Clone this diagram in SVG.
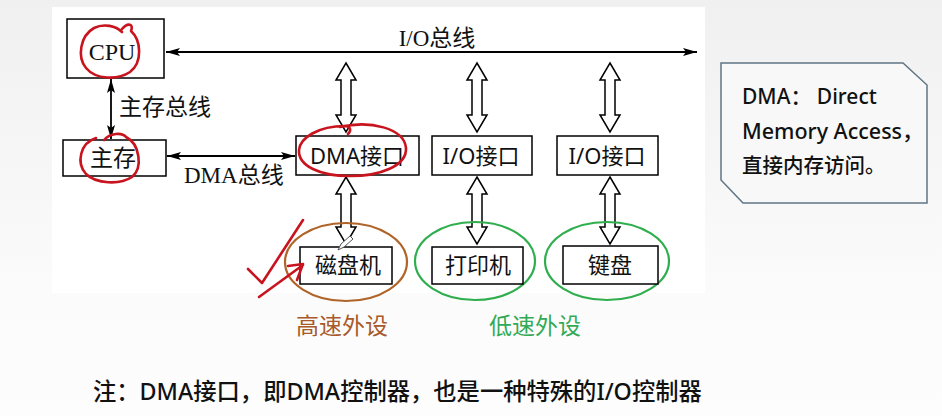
<svg xmlns="http://www.w3.org/2000/svg" width="942" height="416" viewBox="0 0 942 416">
<defs>
<linearGradient id="bg" x1="0" y1="0" x2="0" y2="1">
<stop offset="0" stop-color="#f0f0f0"/>
<stop offset="0.7" stop-color="#fbfbfb"/>
<stop offset="1" stop-color="#fdfdfd"/>
</linearGradient>
<marker id="ah" viewBox="0 0 14 8" refX="14" refY="4" markerWidth="14" markerHeight="8" markerUnits="userSpaceOnUse" orient="auto-start-reverse">
<path d="M0,0 L14,4 L0,8 L3,4 Z" fill="#000"/>
</marker>
</defs>
<style>
.box{fill:#fff;stroke:#000;stroke-width:1.5}
.line{stroke:#000;stroke-width:1.8;fill:none}
.harrow{fill:#fff;stroke:#000;stroke-width:1.5;stroke-linejoin:miter}
.serif{font-family:"Liberation Serif","Noto Sans CJK SC",serif;font-size:23px;fill:#111}
.sans{font-family:"Noto Sans","Noto Sans CJK SC",sans-serif;font-size:22px;fill:#111}
.cjk{font-family:"Noto Sans CJK SC",sans-serif;font-size:22px;fill:#111}
.note{font-family:"Noto Sans","Noto Sans CJK SC",sans-serif;font-size:20px;font-weight:500;fill:#111}
.red{fill:none;stroke:#c8141e;stroke-width:2.6;stroke-linecap:round;stroke-linejoin:round}
</style>
<rect x="0" y="0" width="942" height="416" fill="url(#bg)"/>
<rect x="52" y="7" width="653" height="286" fill="#fff"/>

<g id="connectors">
<line class="line" x1="166" y1="52" x2="697" y2="52" marker-start="url(#ah)" marker-end="url(#ah)"/>
<line class="line" x1="111" y1="79" x2="111" y2="139" marker-start="url(#ah)" marker-end="url(#ah)"/>
<line class="line" x1="167" y1="156" x2="295" y2="156" marker-start="url(#ah)" marker-end="url(#ah)"/>
<path class="harrow" d="M346,63 L356,80 L351,80 L351,115 L356,115 L346,132 L336,115 L341,115 L341,80 L336,80 Z"/>
<path class="harrow" d="M477,63 L487,80 L482,80 L482,115 L487,115 L477,132 L467,115 L472,115 L472,80 L467,80 Z"/>
<path class="harrow" d="M610,63 L620,80 L615,80 L615,115 L620,115 L610,132 L600,115 L605,115 L605,80 L600,80 Z"/>
<path class="harrow" d="M346,177 L356,194 L351,194 L351,227 L356,227 L346,244 L336,227 L341,227 L341,194 L336,194 Z"/>
<path class="harrow" d="M477,177 L487,194 L482,194 L482,227 L487,227 L477,244 L467,227 L472,227 L472,194 L467,194 Z"/>
<path class="harrow" d="M610,177 L620,194 L615,194 L615,227 L620,227 L610,244 L600,227 L605,227 L605,194 L600,194 Z"/>
<text class="serif" x="437" y="46" text-anchor="middle">I/O总线</text>
<text class="serif" x="119" y="115">主存总线</text>
<text class="serif" x="184" y="183">DMA总线</text>
</g>

<g id="cpu">
<rect class="box" x="67" y="19" width="97" height="59"/>
<text class="serif" x="112" y="60" text-anchor="middle" style="font-size:24px">CPU</text>
</g>
<g id="mem">
<rect class="box" x="63" y="140" width="103" height="36"/>
<text class="serif" x="113" y="166" text-anchor="middle">主存</text>
</g>
<g id="dma-if">
<rect class="box" x="296" y="136" width="123" height="39"/>
<text class="sans" x="357" y="164" text-anchor="middle">DMA接口</text>
</g>
<g id="io-if1">
<rect class="box" x="432" y="136" width="100" height="39"/>
<text class="sans" x="481" y="164" text-anchor="middle">I/O接口</text>
</g>
<g id="io-if2">
<rect class="box" x="557" y="136" width="101" height="39"/>
<text class="sans" x="607" y="164" text-anchor="middle">I/O接口</text>
</g>
<g id="disk">
<ellipse cx="346" cy="262" rx="61" ry="39" fill="none" stroke="#b06428" stroke-width="2.2"/>
<rect class="box" x="300" y="247" width="92" height="37"/>
<text class="cjk" x="348" y="273" text-anchor="middle">磁盘机</text>
</g>
<g id="printer">
<ellipse cx="475" cy="261" rx="60" ry="39" fill="none" stroke="#2fae4e" stroke-width="2.2"/>
<rect class="box" x="432" y="247" width="91" height="37"/>
<text class="cjk" x="478" y="273" text-anchor="middle">打印机</text>
</g>
<g id="keyboard">
<ellipse cx="607" cy="261" rx="62" ry="39" fill="none" stroke="#2fae4e" stroke-width="2.2"/>
<rect class="box" x="563" y="246" width="95" height="38"/>
<text class="cjk" x="610" y="273" text-anchor="middle">键盘</text>
</g>
<text class="cjk" x="342" y="334" text-anchor="middle" style="fill:#a85a2a;font-size:23px">高速外设</text>
<text class="cjk" x="535" y="334" text-anchor="middle" style="fill:#33aa55;font-size:23px">低速外设</text>

<g id="note-box">
<path d="M721,63 L903,63 L927,85 L927,203 L743,203 L721,180 Z" fill="#f8f8f8" stroke="#5f7585" stroke-width="1.5"/>
<text class="note" x="742" y="104" style="font-size:21px">DMA：  Direct</text>
<text class="note" x="742" y="139" style="font-size:21.5px">Memory Access，</text>
<text class="note" x="742" y="173" style="font-size:20.5px">直接内存访问。</text>
</g>

<text class="note" x="93" y="400" style="font-size:23.3px">注：DMA接口，即DMA控制器，也是一种特殊的I/O控制器</text>

<g id="annotations">
<path class="red" d="M122,29 C128,22 134,24 131,31 C141,40 143,62 130,72 C118,80 96,80 86,68 C77,57 80,36 94,28 C104,23 116,26 122,32"/>
<path class="red" d="M104,140 C110,133 122,132 126,137 C140,144 143,168 132,177 C120,185 96,184 86,174 C76,163 80,143 96,138"/>
<path class="red" d="M340,127 C370,120 404,128 406,148 C407,166 380,176 350,176 C320,176 298,166 299,150 C300,138 318,126 345,126 C350,126 352,130 348,134"/>
<path class="red" d="M248,269 L262,283 L303,220"/>
<path class="red" d="M259,297 L303,265 M288,266 L303,264 L297,280"/>
<path d="M338,250 L341,244 L350,236 L353,239 L344,247 Z" fill="#fff" stroke="#555" stroke-width="1"/>
</g>
</svg>
